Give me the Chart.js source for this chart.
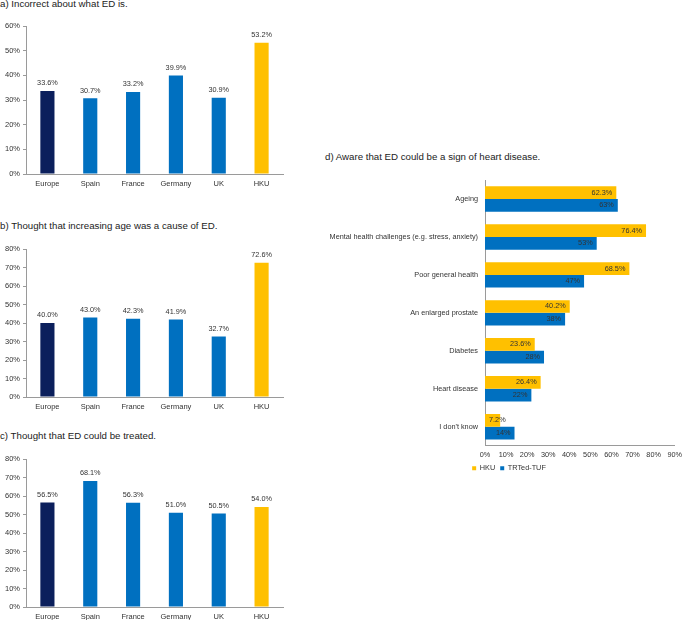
<!DOCTYPE html>
<html>
<head>
<meta charset="utf-8">
<script src="https://cdn.jsdelivr.net/npm/chart.js@4.4.1/dist/chart.umd.min.js"></script>
<style>
  html, body { margin: 0; padding: 0; background: #fff; overflow: hidden; }
  body { width: 682px; height: 620px; position: relative; font-family: "Liberation Sans", Arial, sans-serif; }
  .title { position: absolute; font-size: 9.7px; line-height: 12px; color: #222; white-space: nowrap; }
  canvas { position: absolute; }
</style>
</head>
<body>
<div class="title" style="left:0;top:-2px">a) Incorrect about what ED is.</div>
<div class="title" style="left:0;top:220px">b) Thought that increasing age was a cause of ED.</div>
<div class="title" style="left:0;top:430px">c) Thought that ED could be treated.</div>
<div class="title" style="left:325px;top:151px">d) Aware that ED could be a sign of heart disease.</div>

<div style="position:absolute;left:0;top:16px;width:300px;height:173px"><canvas id="chartA"></canvas></div>
<div style="position:absolute;left:0;top:239px;width:300px;height:173px"><canvas id="chartB"></canvas></div>
<div style="position:absolute;left:0;top:449px;width:300px;height:173px"><canvas id="chartC"></canvas></div>
<div style="position:absolute;left:320px;top:168px;width:362px;height:314px"><canvas id="chartD"></canvas></div>

<script>
// survey data
const countries = ['Europe', 'Spain', 'France', 'Germany', 'UK', 'HKU'];
const incorrectVals = [33.6, 30.7, 33.2, 39.9, 30.9, 53.2];
const ageCauseVals = [40.0, 43.0, 42.3, 41.9, 32.7, 72.6];
const treatedVals = [56.5, 68.1, 56.3, 51.0, 50.5, 54.0];

const causes = ['Ageing', 'Mental health challenges (e.g. stress, anxiety)', 'Poor general health',
                'An enlarged prostate', 'Diabetes', 'Heart disease', "I don't know"];
const hkuVals = [62.3, 76.4, 68.5, 40.2, 23.6, 26.4, 7.2];
const trtedVals = [63, 53, 47, 38, 28, 22, 14];

const countryColors = ['#0b1f5c', '#0070c0', '#0070c0', '#0070c0', '#0070c0', '#ffc000'];
const axisColor = '#9a9a9a';

Chart.defaults.font.family = '"Liberation Sans", Arial, sans-serif';
Chart.defaults.color = '#333';
Chart.defaults.animation = false;

// draws the value next to each bar
const valueLabels = {
    id: 'valueLabels',
    afterDatasetsDraw(chart) {
        const ctx = chart.ctx;
        const horizontal = chart.options.indexAxis === 'y';
        ctx.save();
        ctx.font = '7.3px "Liberation Sans", Arial, sans-serif';
        ctx.fillStyle = '#333';
        chart.data.datasets.forEach((ds, i) => {
            chart.getDatasetMeta(i).data.forEach((bar, j) => {
                const text = ds.data[j].toFixed(ds.decimals) + '%';
                if (horizontal) {
                    const w = ctx.measureText(text).width;
                    ctx.textAlign = 'right';
                    ctx.textBaseline = 'middle';
                    ctx.fillText(text, Math.max(bar.x - 4, bar.base + 4 + w), bar.y);
                } else {
                    ctx.textAlign = 'center';
                    ctx.textBaseline = 'bottom';
                    ctx.fillText(text, bar.x, bar.y - 4);
                }
            });
        });
        ctx.restore();
    }
};

// nudge the legend so it sits under the plot like in the original
const legendShift = {
    id: 'legendShift',
    afterLayout(chart) {
        if (chart.legend) chart.legend.left += 23;
    }
};

function columnChart(id, values, maxVal) {
    return new Chart(document.getElementById(id), {
        type: 'bar',
        data: {
            labels: countries,
            datasets: [{
                data: values,
                decimals: 1,
                backgroundColor: countryColors,
                barPercentage: 0.33,
                categoryPercentage: 1
            }]
        },
        options: {
            responsive: true,
            maintainAspectRatio: false,
            layout: { padding: { left: 0, right: 17, top: 10, bottom: 0 } },
            plugins: { legend: { display: false }, tooltip: { enabled: false } },
            scales: {
                x: {
                    grid: { display: false, drawTicks: true, tickLength: 5 },
                    border: { display: true, color: axisColor },
                    ticks: { font: { size: 7.5 }, padding: 0 },
                    afterFit(scale) { scale.height = 15; }
                },
                y: {
                    min: 0,
                    max: maxVal,
                    grid: { drawOnChartArea: false, tickLength: 3, color: axisColor },
                    border: { display: true, color: axisColor },
                    ticks: { stepSize: 10, font: { size: 7.5 }, padding: 3, callback: v => v + '%' },
                    afterFit(scale) { scale.width = 26; }
                }
            }
        },
        plugins: [valueLabels]
    });
}

columnChart('chartA', incorrectVals, 60);
columnChart('chartB', ageCauseVals, 80);
columnChart('chartC', treatedVals, 80);

new Chart(document.getElementById('chartD'), {
    type: 'bar',
    data: {
        labels: causes,
        datasets: [
            { label: 'HKU', data: hkuVals, decimals: 1, backgroundColor: '#ffc000',
              barPercentage: 1, categoryPercentage: 0.67 },
            { label: 'TRTed-TUF', data: trtedVals, decimals: 0, backgroundColor: '#0070c0',
              barPercentage: 1, categoryPercentage: 0.67 }
        ]
    },
    options: {
        indexAxis: 'y',
        responsive: true,
        maintainAspectRatio: false,
        layout: { padding: { left: 0, right: 7, top: 12, bottom: 0 } },
        plugins: {
            tooltip: { enabled: false },
            legend: {
                position: 'bottom',
                labels: { boxWidth: 4, boxHeight: 4, padding: 5, font: { size: 7.3 }, color: '#333' }
            }
        },
        scales: {
            x: {
                min: 0,
                max: 90,
                grid: { display: false, drawTicks: true, tickLength: 5 },
                border: { display: true, color: axisColor },
                ticks: { stepSize: 10, font: { size: 7.3 }, padding: 0, callback: v => v + '%' },
                afterFit(scale) { scale.height = 14; }
            },
            y: {
                grid: { display: false, drawTicks: false },
                border: { display: true, color: axisColor },
                ticks: { font: { size: 7.3 }, padding: 7 },
                afterFit(scale) { scale.width = 165; }
            }
        }
    },
    plugins: [valueLabels, legendShift]
});
</script>
</body>
</html>
